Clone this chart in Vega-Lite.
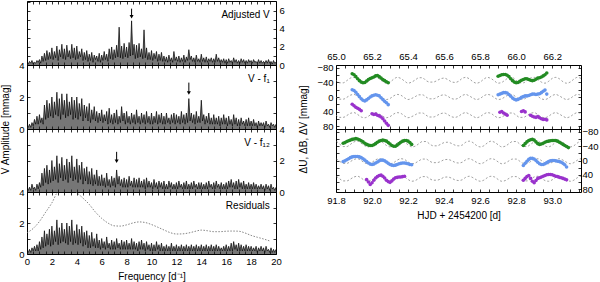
{
"$schema":"https://vega.github.io/schema/vega-lite/v6.json",
"background":"white",
"padding":{"left":0,"top":0,"right":0,"bottom":0},
"config":{"font":"Liberation Sans","view":{"stroke":null},
"axis":{"grid":false,"tickSize":-3,"labelPadding":6,"tickColor":"#000","domainColor":"#000","labelColor":"#000","titleColor":"#000","labelFont":"Liberation Sans","titleFont":"Liberation Sans","labelFontSize":9.5,"titleFontSize":10,"titleFontWeight":"normal","labelOverlap":false,"labelFlush":false,"tickWidth":0.8,"domainWidth":1}},
"datasets":{
"spec":[
{"f":0.0,"a":0.2,"b":0.2,"c":0.2,"d":0.2},{"f":0.1,"a":0.1,"b":0.1,"c":0.1,"d":0.1},{"f":0.2,"a":0.4,"b":0.3,"c":0.3,"d":0.3},{"f":0.3,"a":0.2,"b":0.1,"c":0.1,"d":0.1},{"f":0.4,"a":0.5,"b":0.4,"c":0.5,"d":0.4},{"f":0.5,"a":0.1,"b":0.2,"c":0.2,"d":0.2},{"f":0.6,"a":0.3,"b":0.6,"c":0.3,"d":0.5},{"f":0.7,"a":0.2,"b":0.3,"c":0.1,"d":0.2},{"f":0.8,"a":0.5,"b":0.8,"c":0.5,"d":0.6},{"f":0.9,"a":0.3,"b":0.3,"c":0.2,"d":0.2},
{"f":1.0,"a":0.6,"b":0.9,"c":0.6,"d":0.8},{"f":1.1,"a":0.2,"b":0.4,"c":0.3,"d":0.3},{"f":1.2,"a":1.0,"b":0.7,"c":1.2,"d":1.1},{"f":1.3,"a":0.4,"b":0.3,"c":0.4,"d":0.4},{"f":1.4,"a":1.3,"b":1.5,"c":1.5,"d":1.5},{"f":1.5,"a":0.5,"b":0.6,"c":0.6,"d":0.5},{"f":1.6,"a":1.6,"b":1.8,"c":1.7,"d":1.3},{"f":1.7,"a":0.6,"b":0.7,"c":0.5,"d":0.6},{"f":1.8,"a":1.4,"b":1.6,"c":1.4,"d":1.6},{"f":1.9,"a":0.7,"b":0.8,"c":0.6,"d":0.5},
{"f":2.0,"a":1.9,"b":2.0,"c":2.0,"d":1.8},{"f":2.1,"a":0.6,"b":0.7,"c":0.7,"d":0.6},{"f":2.2,"a":1.5,"b":1.7,"c":1.6,"d":1.5},{"f":2.3,"a":0.8,"b":0.9,"c":0.8,"d":0.8},{"f":2.4,"a":2.1,"b":2.3,"c":2.3,"d":2.2},{"f":2.5,"a":0.5,"b":0.8,"c":0.6,"d":0.6},{"f":2.6,"a":1.7,"b":1.9,"c":1.8,"d":1.7},{"f":2.7,"a":0.9,"b":0.6,"c":0.9,"d":0.7},{"f":2.8,"a":2.3,"b":2.2,"c":2.2,"d":2.0},{"f":2.9,"a":0.7,"b":0.9,"c":0.7,"d":0.8},
{"f":3.0,"a":1.8,"b":1.8,"c":1.7,"d":1.6},{"f":3.1,"a":0.6,"b":0.7,"c":0.8,"d":0.7},{"f":3.2,"a":2.2,"b":2.2,"c":2.1,"d":2.0},{"f":3.3,"a":0.9,"b":0.8,"c":0.6,"d":0.6},{"f":3.4,"a":1.6,"b":1.7,"c":1.9,"d":1.8},{"f":3.5,"a":0.7,"b":0.9,"c":0.9,"d":0.8},{"f":3.6,"a":2.3,"b":2.0,"c":2.3,"d":2.2},{"f":3.7,"a":0.8,"b":0.6,"c":0.7,"d":0.6},{"f":3.8,"a":1.9,"b":1.8,"c":1.6,"d":1.5},{"f":3.9,"a":0.6,"b":0.7,"c":0.8,"d":0.7},
{"f":4.0,"a":2.1,"b":2.0,"c":2.1,"d":1.9},{"f":4.1,"a":0.7,"b":0.6,"c":0.6,"d":0.6},{"f":4.2,"a":1.5,"b":1.6,"c":1.7,"d":1.6},{"f":4.3,"a":0.9,"b":0.8,"c":0.8,"d":0.7},{"f":4.4,"a":1.8,"b":1.9,"c":1.9,"d":1.8},{"f":4.5,"a":0.5,"b":0.5,"c":0.5,"d":0.5},{"f":4.6,"a":1.4,"b":1.5,"c":1.5,"d":1.4},{"f":4.7,"a":0.6,"b":0.7,"c":0.7,"d":0.6},{"f":4.8,"a":1.6,"b":1.4,"c":1.6,"d":1.5},{"f":4.9,"a":0.4,"b":0.5,"c":0.5,"d":0.4},
{"f":5.0,"a":1.2,"b":1.6,"c":1.3,"d":1.2},{"f":5.1,"a":0.5,"b":0.4,"c":0.5,"d":0.4},{"f":5.2,"a":1.4,"b":1.2,"c":1.5,"d":1.4},{"f":5.3,"a":0.3,"b":0.6,"c":0.4,"d":0.5},{"f":5.4,"a":1.1,"b":1.4,"c":1.1,"d":1.0},{"f":5.5,"a":0.6,"b":0.5,"c":0.5,"d":0.4},{"f":5.6,"a":1.0,"b":1.1,"c":1.4,"d":1.3},{"f":5.7,"a":0.4,"b":0.4,"c":0.4,"d":0.4},{"f":5.8,"a":1.3,"b":1.0,"c":1.0,"d":0.9},{"f":5.9,"a":0.3,"b":0.5,"c":0.4,"d":0.3},
{"f":6.0,"a":1.1,"b":1.2,"c":1.1,"d":1.0},{"f":6.1,"a":0.5,"b":0.4,"c":0.4,"d":0.4},{"f":6.2,"a":1.5,"b":0.9,"c":0.9,"d":0.8},{"f":6.3,"a":0.6,"b":0.5,"c":0.3,"d":0.3},{"f":6.4,"a":1.2,"b":1.1,"c":1.2,"d":1.1},{"f":6.5,"a":0.4,"b":0.3,"c":0.4,"d":0.4},{"f":6.6,"a":1.8,"b":1.3,"c":0.8,"d":0.7},{"f":6.7,"a":0.7,"b":0.4,"c":0.3,"d":0.3},{"f":6.8,"a":2.0,"b":0.9,"c":1.0,"d":0.9},{"f":6.9,"a":0.6,"b":0.3,"c":0.4,"d":0.3},
{"f":7.0,"a":1.7,"b":1.0,"c":0.9,"d":0.8},{"f":7.1,"a":0.8,"b":0.4,"c":0.3,"d":0.3},{"f":7.2,"a":2.2,"b":1.2,"c":1.4,"d":1.0},{"f":7.3,"a":0.9,"b":0.3,"c":0.5,"d":0.4},{"f":7.4,"a":4.2,"b":0.8,"c":1.0,"d":0.7},{"f":7.5,"a":0.8,"b":0.4,"c":0.4,"d":0.3},{"f":7.6,"a":2.1,"b":1.4,"c":0.8,"d":0.9},{"f":7.7,"a":0.7,"b":0.5,"c":0.3,"d":0.3},{"f":7.8,"a":2.4,"b":1.0,"c":0.9,"d":0.8},{"f":7.9,"a":0.9,"b":0.3,"c":0.3,"d":0.3},
{"f":8.0,"a":2.0,"b":1.1,"c":0.8,"d":0.9},{"f":8.1,"a":0.8,"b":0.4,"c":0.3,"d":0.3},{"f":8.2,"a":2.5,"b":0.8,"c":1.0,"d":0.7},{"f":8.3,"a":1.0,"b":0.3,"c":0.4,"d":0.3},{"f":8.4,"a":4.9,"b":1.0,"c":0.7,"d":1.0},{"f":8.5,"a":1.1,"b":0.4,"c":0.3,"d":0.3},{"f":8.6,"a":2.3,"b":0.9,"c":0.9,"d":0.8},{"f":8.7,"a":0.7,"b":0.3,"c":0.3,"d":0.3},{"f":8.8,"a":2.2,"b":1.2,"c":0.8,"d":0.7},{"f":8.9,"a":0.8,"b":0.4,"c":0.3,"d":0.2},
{"f":9.0,"a":2.4,"b":0.8,"c":0.9,"d":0.8},{"f":9.1,"a":0.9,"b":0.3,"c":0.3,"d":0.3},{"f":9.2,"a":1.8,"b":1.0,"c":0.7,"d":0.9},{"f":9.3,"a":0.7,"b":0.4,"c":0.3,"d":0.3},{"f":9.4,"a":3.9,"b":0.9,"c":0.8,"d":0.7},{"f":9.5,"a":0.8,"b":0.3,"c":0.2,"d":0.2},{"f":9.6,"a":1.9,"b":1.1,"c":0.9,"d":0.8},{"f":9.7,"a":0.6,"b":0.4,"c":0.3,"d":0.3},{"f":9.8,"a":1.4,"b":0.8,"c":0.7,"d":0.6},{"f":9.9,"a":0.6,"b":0.3,"c":0.3,"d":0.2},
{"f":10.0,"a":1.6,"b":1.0,"c":0.6,"d":0.7},{"f":10.1,"a":0.5,"b":0.3,"c":0.2,"d":0.2},{"f":10.2,"a":1.3,"b":0.8,"c":0.8,"d":0.6},{"f":10.3,"a":0.7,"b":0.4,"c":0.3,"d":0.2},{"f":10.4,"a":1.5,"b":1.1,"c":0.6,"d":0.8},{"f":10.5,"a":0.4,"b":0.3,"c":0.2,"d":0.3},{"f":10.6,"a":1.2,"b":0.9,"c":0.7,"d":0.6},{"f":10.7,"a":0.5,"b":0.4,"c":0.3,"d":0.2},{"f":10.8,"a":1.4,"b":1.0,"c":0.6,"d":0.7},{"f":10.9,"a":0.4,"b":0.3,"c":0.2,"d":0.2},
{"f":11.0,"a":1.0,"b":0.8,"c":0.7,"d":0.5},{"f":11.1,"a":0.4,"b":0.3,"c":0.2,"d":0.2},{"f":11.2,"a":0.9,"b":1.0,"c":0.5,"d":0.6},{"f":11.3,"a":0.3,"b":0.4,"c":0.2,"d":0.2},{"f":11.4,"a":1.1,"b":0.7,"c":0.7,"d":0.5},{"f":11.5,"a":0.4,"b":0.3,"c":0.3,"d":0.2},{"f":11.6,"a":0.8,"b":0.9,"c":0.6,"d":0.7},{"f":11.7,"a":0.3,"b":0.4,"c":0.2,"d":0.2},{"f":11.8,"a":1.5,"b":1.0,"c":0.5,"d":0.5},{"f":11.9,"a":0.5,"b":0.3,"c":0.2,"d":0.2},
{"f":12.0,"a":0.9,"b":0.9,"c":0.6,"d":0.6},{"f":12.1,"a":0.4,"b":0.4,"c":0.2,"d":0.2},{"f":12.2,"a":1.0,"b":0.8,"c":0.7,"d":0.5},{"f":12.3,"a":0.3,"b":0.3,"c":0.3,"d":0.2},{"f":12.4,"a":0.8,"b":1.1,"c":0.5,"d":0.6},{"f":12.5,"a":0.4,"b":0.4,"c":0.2,"d":0.2},{"f":12.6,"a":1.1,"b":0.9,"c":0.6,"d":0.5},{"f":12.7,"a":0.3,"b":0.3,"c":0.2,"d":0.2},{"f":12.8,"a":0.9,"b":1.0,"c":0.7,"d":0.6},{"f":12.9,"a":0.5,"b":0.4,"c":0.2,"d":0.2},
{"f":13.0,"a":1.7,"b":1.9,"c":0.5,"d":0.5},{"f":13.1,"a":0.6,"b":0.5,"c":0.2,"d":0.2},{"f":13.2,"a":1.0,"b":1.0,"c":0.6,"d":0.6},{"f":13.3,"a":0.4,"b":0.4,"c":0.2,"d":0.2},{"f":13.4,"a":0.8,"b":0.9,"c":0.7,"d":0.5},{"f":13.5,"a":0.3,"b":0.3,"c":0.3,"d":0.2},{"f":13.6,"a":1.1,"b":1.1,"c":0.5,"d":0.6},{"f":13.7,"a":0.4,"b":0.4,"c":0.2,"d":0.2},{"f":13.8,"a":0.7,"b":0.8,"c":0.6,"d":0.5},{"f":13.9,"a":0.3,"b":0.4,"c":0.2,"d":0.2},
{"f":14.0,"a":1.2,"b":1.8,"c":0.6,"d":0.6},{"f":14.1,"a":0.4,"b":0.5,"c":0.2,"d":0.2},{"f":14.2,"a":0.8,"b":0.9,"c":0.5,"d":0.5},{"f":14.3,"a":0.3,"b":0.3,"c":0.2,"d":0.2},{"f":14.4,"a":0.9,"b":0.8,"c":0.6,"d":0.6},{"f":14.5,"a":0.3,"b":0.4,"c":0.2,"d":0.2},{"f":14.6,"a":0.7,"b":1.0,"c":0.7,"d":0.5},{"f":14.7,"a":0.4,"b":0.3,"c":0.3,"d":0.2},{"f":14.8,"a":0.8,"b":0.7,"c":0.5,"d":0.6},{"f":14.9,"a":0.3,"b":0.3,"c":0.2,"d":0.2},
{"f":15.0,"a":0.7,"b":0.9,"c":0.6,"d":0.5},{"f":15.1,"a":0.3,"b":0.3,"c":0.2,"d":0.2},{"f":15.2,"a":1.2,"b":0.7,"c":0.7,"d":0.6},{"f":15.3,"a":0.4,"b":0.3,"c":0.3,"d":0.2},{"f":15.4,"a":0.8,"b":0.8,"c":0.5,"d":0.5},{"f":15.5,"a":0.3,"b":0.2,"c":0.2,"d":0.2},{"f":15.6,"a":0.6,"b":0.7,"c":0.6,"d":0.4},{"f":15.7,"a":0.3,"b":0.3,"c":0.2,"d":0.2},{"f":15.8,"a":0.7,"b":0.9,"c":0.5,"d":0.5},{"f":15.9,"a":0.2,"b":0.3,"c":0.2,"d":0.2},
{"f":16.0,"a":0.6,"b":0.7,"c":0.6,"d":0.6},{"f":16.1,"a":0.2,"b":0.2,"c":0.2,"d":0.2},{"f":16.2,"a":0.7,"b":0.8,"c":0.7,"d":0.5},{"f":16.3,"a":0.3,"b":0.3,"c":0.3,"d":0.2},{"f":16.4,"a":0.5,"b":0.6,"c":0.8,"d":0.7},{"f":16.5,"a":0.2,"b":0.2,"c":0.3,"d":0.2},{"f":16.6,"a":0.8,"b":0.9,"c":0.6,"d":0.8},{"f":16.7,"a":0.3,"b":0.3,"c":0.2,"d":0.3},{"f":16.8,"a":0.6,"b":0.7,"c":0.7,"d":0.6},{"f":16.9,"a":0.2,"b":0.2,"c":0.2,"d":0.2},
{"f":17.0,"a":0.5,"b":0.6,"c":0.8,"d":0.7},{"f":17.1,"a":0.2,"b":0.2,"c":0.3,"d":0.2},{"f":17.2,"a":0.7,"b":0.7,"c":0.6,"d":0.6},{"f":17.3,"a":0.3,"b":0.3,"c":0.2,"d":0.2},{"f":17.4,"a":0.6,"b":0.5,"c":0.7,"d":0.5},{"f":17.5,"a":0.2,"b":0.2,"c":0.2,"d":0.2},{"f":17.6,"a":0.5,"b":0.6,"c":0.5,"d":0.6},{"f":17.7,"a":0.2,"b":0.2,"c":0.2,"d":0.2},{"f":17.8,"a":0.6,"b":0.7,"c":0.6,"d":0.5},{"f":17.9,"a":0.3,"b":0.2,"c":0.2,"d":0.2},
{"f":18.0,"a":0.5,"b":0.5,"c":0.5,"d":0.5},{"f":18.1,"a":0.2,"b":0.2,"c":0.2,"d":0.2},{"f":18.2,"a":0.6,"b":0.6,"c":0.6,"d":0.4},{"f":18.3,"a":0.3,"b":0.2,"c":0.2,"d":0.2},{"f":18.4,"a":0.4,"b":0.4,"c":0.5,"d":0.5},{"f":18.5,"a":0.2,"b":0.1,"c":0.2,"d":0.1},{"f":18.6,"a":0.6,"b":0.5,"c":0.4,"d":0.4},{"f":18.7,"a":0.2,"b":0.2,"c":0.2,"d":0.2},{"f":18.8,"a":0.5,"b":0.4,"c":0.5,"d":0.5},{"f":18.9,"a":0.2,"b":0.2,"c":0.2,"d":0.2},
{"f":19.0,"a":0.4,"b":0.4,"c":0.4,"d":0.4},{"f":19.1,"a":0.2,"b":0.1,"c":0.1,"d":0.1},{"f":19.2,"a":0.5,"b":0.5,"c":0.5,"d":0.5},{"f":19.3,"a":0.2,"b":0.2,"c":0.2,"d":0.2},{"f":19.4,"a":0.6,"b":0.3,"c":0.4,"d":0.3},{"f":19.5,"a":0.2,"b":0.1,"c":0.1,"d":0.1},{"f":19.6,"a":0.4,"b":0.4,"c":0.5,"d":0.4},{"f":19.7,"a":0.1,"b":0.2,"c":0.2,"d":0.1},{"f":19.8,"a":0.5,"b":0.3,"c":0.3,"d":0.3},{"f":19.9,"a":0.2,"b":0.1,"c":0.1,"d":0.1},
{"f":20.0,"a":0.3,"b":0.3,"c":0.3,"d":0.3}
],
"sig":[
{"f":0,"s":1.37},{"f":0.5,"s":1.65},{"f":1,"s":2.1},{"f":1.5,"s":2.7},{"f":2,"s":3.3},{"f":2.5,"s":4.05},{"f":3,"s":4.25},{"f":3.5,"s":4.2},{"f":4,"s":3.95},{"f":4.5,"s":3.6},{"f":5,"s":3.2},{"f":5.5,"s":2.7},{"f":6,"s":2.3},{"f":6.5,"s":2.0},{"f":7,"s":1.82},{"f":7.5,"s":1.8},{"f":8,"s":1.88},{"f":8.5,"s":2.0},{"f":9,"s":2.07},{"f":9.5,"s":2.03},{"f":10,"s":1.9},{"f":10.5,"s":1.73},{"f":11,"s":1.55},{"f":11.5,"s":1.38},{"f":12,"s":1.29},{"f":12.5,"s":1.3},{"f":13,"s":1.36},{"f":13.5,"s":1.46},{"f":14,"s":1.54},{"f":14.5,"s":1.5},{"f":15,"s":1.44},{"f":15.5,"s":1.44},{"f":16,"s":1.47},{"f":16.5,"s":1.48},{"f":17,"s":1.47},{"f":17.5,"s":1.36},{"f":18,"s":1.2},{"f":18.5,"s":1.08},{"f":19,"s":0.97},{"f":19.5,"s":0.84}
],
"arrows":[
{"p":"A","f":8.4,"top":6.25,"tip":5.35},
{"p":"B","f":13.0,"top":2.9,"tip":2.25},
{"p":"C","f":7.2,"top":2.55,"tip":1.95}
],
"obs":[
{"s":"T","t":65.09,"g":-64,"b":-20,"v":20},{"s":"T","t":65.10,"g":-61,"b":-18,"v":24},{"s":"T","t":65.11,"g":-56,"b":-13,"v":28},{"s":"T","t":65.12,"g":-50,"b":-7,"v":31},{"s":"T","t":65.13,"g":-45,"b":-1,"v":34},{"s":"T","t":65.14,"g":-41,"b":5,"v":38},{"s":"T","t":65.15,"g":-39,"b":9,"v":null},{"s":"T","t":65.16,"g":-40,"b":11,"v":null},{"s":"T","t":65.17,"g":-44,"b":8,"v":null},{"s":"T","t":65.18,"g":-48,"b":4,"v":null},{"s":"T","t":65.19,"g":-51,"b":0,"v":null},{"s":"T","t":65.20,"g":-53,"b":-3,"v":46},{"s":"T","t":65.21,"g":-55,"b":-5,"v":48},{"s":"T","t":65.22,"g":-58,"b":-6,"v":47},{"s":"T","t":65.23,"g":-59,"b":-5,"v":50},{"s":"T","t":65.24,"g":-56,"b":-3,"v":52},{"s":"T","t":65.25,"g":-52,"b":2,"v":55},{"s":"T","t":65.26,"g":-48,"b":7,"v":60},{"s":"T","t":65.27,"g":-45,"b":12,"v":66},{"s":"T","t":65.28,"g":-42,"b":16,"v":72},{"s":"T","t":65.29,"g":-39,"b":21,"v":78},
{"s":"T","t":65.90,"g":-57,"b":-6,"v":null},{"s":"T","t":65.91,"g":-59,"b":-8,"v":42},{"s":"T","t":65.92,"g":-61,"b":-10,"v":40},{"s":"T","t":65.93,"g":-62,"b":-12,"v":44},{"s":"T","t":65.94,"g":-62,"b":-12,"v":47},{"s":"T","t":65.95,"g":-60,"b":-11,"v":50},{"s":"T","t":65.96,"g":-56,"b":-7,"v":null},{"s":"T","t":65.97,"g":-50,"b":-2,"v":null},{"s":"T","t":65.98,"g":-45,"b":3,"v":null},{"s":"T","t":65.99,"g":-41,"b":6,"v":null},{"s":"T","t":66.00,"g":-39,"b":8,"v":null},{"s":"T","t":66.01,"g":-40,"b":7,"v":null},{"s":"T","t":66.02,"g":-43,"b":4,"v":null},{"s":"T","t":66.03,"g":-46,"b":1,"v":40},{"s":"T","t":66.04,"g":-48,"b":-1,"v":38},{"s":"T","t":66.05,"g":-50,"b":-3,"v":41},{"s":"T","t":66.06,"g":-50,"b":-3,"v":null},{"s":"T","t":66.07,"g":-48,"b":-4,"v":null},{"s":"T","t":66.08,"g":-46,"b":-6,"v":50},{"s":"T","t":66.09,"g":-45,"b":-8,"v":53},{"s":"T","t":66.10,"g":-46,"b":-8,"v":55},{"s":"T","t":66.11,"g":-49,"b":-7,"v":56},{"s":"T","t":66.12,"g":-52,"b":-8,"v":54},{"s":"T","t":66.13,"g":-53,"b":-9,"v":57},{"s":"T","t":66.14,"g":-55,"b":-12,"v":60},{"s":"T","t":66.15,"g":-58,"b":-16,"v":62},{"s":"T","t":66.16,"g":-61,"b":-19,"v":61},{"s":"T","t":66.17,"g":-66,"b":-8,"v":63},
{"s":"B","t":91.84,"g":-48,"b":3,"v":null},{"s":"B","t":91.85,"g":-50,"b":1,"v":null},{"s":"B","t":91.86,"g":-53,"b":-2,"v":null},{"s":"B","t":91.87,"g":-55,"b":-5,"v":null},{"s":"B","t":91.88,"g":-57,"b":-8,"v":null},{"s":"B","t":91.89,"g":-59,"b":-10,"v":null},{"s":"B","t":91.90,"g":-60,"b":-11,"v":null},{"s":"B","t":91.91,"g":-61,"b":-11,"v":null},{"s":"B","t":91.92,"g":-60,"b":-11,"v":null},{"s":"B","t":91.93,"g":-58,"b":-10,"v":null},{"s":"B","t":91.94,"g":-55,"b":-8,"v":null},{"s":"B","t":91.95,"g":-52,"b":-5,"v":null},{"s":"B","t":91.96,"g":-48,"b":-1,"v":null},{"s":"B","t":91.97,"g":-45,"b":3,"v":53},{"s":"B","t":91.98,"g":-43,"b":7,"v":60},{"s":"B","t":91.99,"g":-42,"b":10,"v":67},{"s":"B","t":92.00,"g":-42,"b":11,"v":62},{"s":"B","t":92.01,"g":-44,"b":10,"v":55},{"s":"B","t":92.02,"g":-47,"b":7,"v":49},{"s":"B","t":92.03,"g":-51,"b":4,"v":45},{"s":"B","t":92.04,"g":-54,"b":1,"v":42},{"s":"B","t":92.05,"g":-56,"b":-1,"v":41},{"s":"B","t":92.06,"g":-57,"b":-1,"v":44},{"s":"B","t":92.07,"g":-56,"b":1,"v":49},{"s":"B","t":92.08,"g":-54,"b":4,"v":55},{"s":"B","t":92.09,"g":-50,"b":8,"v":59},{"s":"B","t":92.10,"g":-46,"b":11,"v":61},{"s":"B","t":92.11,"g":-42,"b":13,"v":57},{"s":"B","t":92.12,"g":-40,"b":14,"v":52},{"s":"B","t":92.13,"g":-40,"b":13,"v":48},{"s":"B","t":92.14,"g":-43,"b":11,"v":47},{"s":"B","t":92.15,"g":-47,"b":9,"v":46},{"s":"B","t":92.16,"g":-51,"b":8,"v":46},{"s":"B","t":92.17,"g":-54,"b":7,"v":45},{"s":"B","t":92.18,"g":-56,"b":7,"v":44},{"s":"B","t":92.19,"g":-56,"b":8,"v":null},{"s":"B","t":92.20,"g":-54,"b":9,"v":null},{"s":"B","t":92.21,"g":-50,"b":11,"v":null},{"s":"B","t":92.22,"g":-45,"b":12,"v":null},
{"s":"B","t":92.84,"g":-42,"b":14,"v":55},{"s":"B","t":92.85,"g":-47,"b":8,"v":50},{"s":"B","t":92.86,"g":-52,"b":2,"v":45},{"s":"B","t":92.87,"g":-56,"b":-3,"v":42},{"s":"B","t":92.88,"g":-58,"b":-6,"v":50},{"s":"B","t":92.89,"g":-59,"b":-6,"v":58},{"s":"B","t":92.90,"g":-57,"b":-4,"v":62},{"s":"B","t":92.91,"g":-52,"b":0,"v":56},{"s":"B","t":92.92,"g":-47,"b":5,"v":50},{"s":"B","t":92.93,"g":-45,"b":9,"v":48},{"s":"B","t":92.94,"g":-46,"b":11,"v":46},{"s":"B","t":92.95,"g":-48,"b":11,"v":44},{"s":"B","t":92.96,"g":-51,"b":9,"v":42},{"s":"B","t":92.97,"g":-53,"b":6,"v":40},{"s":"B","t":92.98,"g":-54,"b":3,"v":39},{"s":"B","t":92.99,"g":-55,"b":1,"v":39},{"s":"B","t":93.00,"g":-56,"b":0,"v":40},{"s":"B","t":93.01,"g":-56,"b":0,"v":42},{"s":"B","t":93.02,"g":-56,"b":1,"v":44},{"s":"B","t":93.03,"g":-54,"b":2,"v":45},{"s":"B","t":93.04,"g":-51,"b":3,"v":47},{"s":"B","t":93.05,"g":-48,"b":5,"v":48},{"s":"B","t":93.06,"g":-45,"b":8,"v":50},{"s":"B","t":93.07,"g":-42,"b":12,"v":52},{"s":"B","t":93.08,"g":-39,"b":18,"v":54},{"s":"B","t":93.09,"g":-36,"b":null,"v":null}
],
"model":[
{"s":"T","t":64.98,"g":-53,"b":-6,"v":44},{"s":"T","t":65.00,"g":-46,"b":0,"v":50},{"s":"T","t":65.02,"g":-39,"b":6,"v":56},{"s":"T","t":65.04,"g":-39,"b":6,"v":56},{"s":"T","t":65.06,"g":-45,"b":1,"v":51},{"s":"T","t":65.08,"g":-52,"b":-5,"v":45},{"s":"T","t":65.10,"g":-54,"b":-7,"v":43},{"s":"T","t":65.12,"g":-48,"b":-2,"v":48},{"s":"T","t":65.14,"g":-41,"b":5,"v":55},{"s":"T","t":65.16,"g":-38,"b":7,"v":57},{"s":"T","t":65.18,"g":-43,"b":3,"v":53},{"s":"T","t":65.20,"g":-51,"b":-4,"v":46},{"s":"T","t":65.22,"g":-54,"b":-7,"v":43},{"s":"T","t":65.24,"g":-50,"b":-3,"v":47},{"s":"T","t":65.26,"g":-42,"b":3,"v":53},{"s":"T","t":65.28,"g":-38,"b":7,"v":57},{"s":"T","t":65.30,"g":-41,"b":4,"v":54},{"s":"T","t":65.32,"g":-49,"b":-3,"v":47},{"s":"T","t":65.34,"g":-54,"b":-7,"v":43},{"s":"T","t":65.36,"g":-51,"b":-5,"v":45},{"s":"T","t":65.38,"g":-44,"b":2,"v":52},{"s":"T","t":65.40,"g":-38,"b":7,"v":57},{"s":"T","t":65.42,"g":-41,"b":4,"v":54},{"s":"T","t":65.44,"g":-47,"b":-1,"v":49},{"s":"T","t":65.46,"g":-53,"b":-6,"v":44},{"s":"T","t":65.48,"g":-53,"b":-6,"v":44},{"s":"T","t":65.50,"g":-45,"b":0,"v":50},{"s":"T","t":65.52,"g":-41,"b":5,"v":55},{"s":"T","t":65.54,"g":-41,"b":5,"v":55},{"s":"T","t":65.56,"g":-45,"b":1,"v":51},{"s":"T","t":65.58,"g":-50,"b":-4,"v":46},{"s":"T","t":65.60,"g":-52,"b":-6,"v":44},{"s":"T","t":65.62,"g":-48,"b":-2,"v":48},{"s":"T","t":65.64,"g":-42,"b":4,"v":54},{"s":"T","t":65.66,"g":-40,"b":6,"v":56},{"s":"T","t":65.68,"g":-43,"b":3,"v":53},{"s":"T","t":65.70,"g":-51,"b":-4,"v":46},{"s":"T","t":65.72,"g":-54,"b":-7,"v":43},{"s":"T","t":65.74,"g":-50,"b":-3,"v":47},{"s":"T","t":65.76,"g":-42,"b":3,"v":53},{"s":"T","t":65.78,"g":-38,"b":7,"v":57},{"s":"T","t":65.80,"g":-41,"b":4,"v":54},{"s":"T","t":65.82,"g":-49,"b":-3,"v":47},{"s":"T","t":65.84,"g":-54,"b":-7,"v":43},{"s":"T","t":65.86,"g":-51,"b":-5,"v":45},{"s":"T","t":65.88,"g":-44,"b":2,"v":52},{"s":"T","t":65.90,"g":-38,"b":7,"v":57},{"s":"T","t":65.92,"g":-40,"b":5,"v":55},{"s":"T","t":65.94,"g":-47,"b":-1,"v":49},{"s":"T","t":65.96,"g":-53,"b":-6,"v":44},{"s":"T","t":65.98,"g":-53,"b":-6,"v":44},{"s":"T","t":66.00,"g":-46,"b":0,"v":50},{"s":"T","t":66.02,"g":-39,"b":6,"v":56},{"s":"T","t":66.04,"g":-39,"b":6,"v":56},{"s":"T","t":66.06,"g":-45,"b":1,"v":51},{"s":"T","t":66.08,"g":-52,"b":-5,"v":45},{"s":"T","t":66.10,"g":-54,"b":-7,"v":43},{"s":"T","t":66.12,"g":-48,"b":-2,"v":48},{"s":"T","t":66.14,"g":-41,"b":5,"v":55},{"s":"T","t":66.16,"g":-38,"b":7,"v":57},{"s":"T","t":66.18,"g":-43,"b":3,"v":53},{"s":"T","t":66.20,"g":-51,"b":-4,"v":46},{"s":"T","t":66.22,"g":-54,"b":-7,"v":43},{"s":"T","t":66.24,"g":-50,"b":-3,"v":47},{"s":"T","t":66.26,"g":-42,"b":3,"v":53},{"s":"T","t":66.28,"g":-38,"b":7,"v":57},{"s":"T","t":66.30,"g":-41,"b":4,"v":54},{"s":"T","t":66.32,"g":-49,"b":-3,"v":47},{"s":"T","t":66.34,"g":-54,"b":-7,"v":43},{"s":"T","t":66.36,"g":-51,"b":-5,"v":45},{"s":"T","t":66.38,"g":-44,"b":2,"v":52},
{"s":"B","t":91.78,"g":-53,"b":-4,"v":45},{"s":"B","t":91.80,"g":-53,"b":-4,"v":45},{"s":"B","t":91.82,"g":-46,"b":2,"v":51},{"s":"B","t":91.84,"g":-39,"b":8,"v":57},{"s":"B","t":91.86,"g":-39,"b":8,"v":57},{"s":"B","t":91.88,"g":-45,"b":3,"v":52},{"s":"B","t":91.90,"g":-52,"b":-3,"v":46},{"s":"B","t":91.92,"g":-54,"b":-5,"v":44},{"s":"B","t":91.94,"g":-48,"b":0,"v":49},{"s":"B","t":91.96,"g":-41,"b":7,"v":56},{"s":"B","t":91.98,"g":-38,"b":9,"v":58},{"s":"B","t":92.00,"g":-43,"b":5,"v":54},{"s":"B","t":92.02,"g":-51,"b":-2,"v":47},{"s":"B","t":92.04,"g":-54,"b":-5,"v":44},{"s":"B","t":92.06,"g":-50,"b":-1,"v":48},{"s":"B","t":92.08,"g":-42,"b":5,"v":54},{"s":"B","t":92.10,"g":-38,"b":9,"v":58},{"s":"B","t":92.12,"g":-41,"b":6,"v":55},{"s":"B","t":92.14,"g":-49,"b":-1,"v":48},{"s":"B","t":92.16,"g":-54,"b":-5,"v":44},{"s":"B","t":92.18,"g":-51,"b":-3,"v":46},{"s":"B","t":92.20,"g":-44,"b":4,"v":53},{"s":"B","t":92.22,"g":-38,"b":9,"v":58},{"s":"B","t":92.24,"g":-40,"b":7,"v":56},{"s":"B","t":92.26,"g":-47,"b":1,"v":50},{"s":"B","t":92.28,"g":-53,"b":-4,"v":45},{"s":"B","t":92.30,"g":-53,"b":-4,"v":45},{"s":"B","t":92.32,"g":-46,"b":2,"v":51},{"s":"B","t":92.34,"g":-41,"b":6,"v":55},{"s":"B","t":92.36,"g":-41,"b":6,"v":55},{"s":"B","t":92.38,"g":-45,"b":3,"v":52},{"s":"B","t":92.40,"g":-50,"b":-2,"v":47},{"s":"B","t":92.42,"g":-51,"b":-3,"v":46},{"s":"B","t":92.44,"g":-48,"b":0,"v":49},{"s":"B","t":92.46,"g":-43,"b":5,"v":54},{"s":"B","t":92.48,"g":-41,"b":7,"v":56},{"s":"B","t":92.50,"g":-43,"b":5,"v":54},{"s":"B","t":92.52,"g":-51,"b":-2,"v":47},{"s":"B","t":92.54,"g":-54,"b":-5,"v":44},{"s":"B","t":92.56,"g":-50,"b":-1,"v":48},{"s":"B","t":92.58,"g":-42,"b":5,"v":54},{"s":"B","t":92.60,"g":-38,"b":9,"v":58},{"s":"B","t":92.62,"g":-41,"b":6,"v":55},{"s":"B","t":92.64,"g":-49,"b":-1,"v":48},{"s":"B","t":92.66,"g":-54,"b":-5,"v":44},{"s":"B","t":92.68,"g":-51,"b":-3,"v":46},{"s":"B","t":92.70,"g":-44,"b":4,"v":53},{"s":"B","t":92.72,"g":-38,"b":9,"v":58},{"s":"B","t":92.74,"g":-40,"b":7,"v":56},{"s":"B","t":92.76,"g":-47,"b":1,"v":50},{"s":"B","t":92.78,"g":-53,"b":-4,"v":45},{"s":"B","t":92.80,"g":-53,"b":-4,"v":45},{"s":"B","t":92.82,"g":-46,"b":2,"v":51},{"s":"B","t":92.84,"g":-39,"b":8,"v":57},{"s":"B","t":92.86,"g":-39,"b":8,"v":57},{"s":"B","t":92.88,"g":-45,"b":3,"v":52},{"s":"B","t":92.90,"g":-52,"b":-3,"v":46},{"s":"B","t":92.92,"g":-54,"b":-5,"v":44},{"s":"B","t":92.94,"g":-48,"b":0,"v":49},{"s":"B","t":92.96,"g":-41,"b":7,"v":56},{"s":"B","t":92.98,"g":-38,"b":9,"v":58},{"s":"B","t":93.00,"g":-43,"b":5,"v":54},{"s":"B","t":93.02,"g":-51,"b":-2,"v":47},{"s":"B","t":93.04,"g":-54,"b":-5,"v":44},{"s":"B","t":93.06,"g":-50,"b":-1,"v":48},{"s":"B","t":93.08,"g":-42,"b":5,"v":54},{"s":"B","t":93.10,"g":-38,"b":9,"v":58},{"s":"B","t":93.12,"g":-41,"b":6,"v":55},{"s":"B","t":93.14,"g":-49,"b":-1,"v":48},{"s":"B","t":93.16,"g":-54,"b":-5,"v":44},{"s":"B","t":93.18,"g":-51,"b":-3,"v":46}
]
},
"columns":2,
"spacing":{"row":0,"column":60},
"bounds":"flush",
"concat":[
{"width":249,"height":64,
"layer":[
{"data":{"name":"spec"},"mark":{"type":"area","color":"#1a1a1a","opacity":0.6,"clip":true},
"encoding":{"x":{"field":"f","type":"quantitative","scale":{"domain":[0,20],"nice":false,"zero":false},"axis":{"orient":"bottom","values":[0,0.5,1,1.5,2,2.5,3,3.5,4,4.5,5,5.5,6,6.5,7,7.5,8,8.5,9,9.5,10,10.5,11,11.5,12,12.5,13,13.5,14,14.5,15,15.5,16,16.5,17,17.5,18,18.5,19,19.5,20],"labels":false,"title":null}},
"y":{"field":"a","type":"quantitative","scale":{"domain":[0,7.1],"nice":false},"axis":{"orient":"left","values":[0,1,2,3,4,5,6,7],"labels":false,"title":null}}}},
{"data":{"name":"spec"},"mark":{"type":"line","color":"#000","strokeWidth":0.7,"clip":true},
"encoding":{"x":{"field":"f","type":"quantitative","scale":{"domain":[0,20],"nice":false,"zero":false},"axis":null},
"y":{"field":"a","type":"quantitative","scale":{"domain":[0,7.1],"nice":false},"axis":null}}},
{"data":{"name":"arrows"},"transform":[{"filter":"datum.p==='A'"}],"mark":{"type":"rule","color":"#000","strokeWidth":1},
"encoding":{"x":{"field":"f","type":"quantitative","scale":{"domain":[0,20],"nice":false,"zero":false},"axis":{"orient":"top","values":[0,0.5,1,1.5,2,2.5,3,3.5,4,4.5,5,5.5,6,6.5,7,7.5,8,8.5,9,9.5,10,10.5,11,11.5,12,12.5,13,13.5,14,14.5,15,15.5,16,16.5,17,17.5,18,18.5,19,19.5,20],"labels":false,"title":null}},
"y":{"field":"top","type":"quantitative","scale":{"domain":[0,7.1],"nice":false},"axis":{"orient":"right","values":[0,1,2,3,4,5,6],"labelExpr":"datum.value % 2 === 0 ? format(datum.value,'d') : ''","title":null}},
"y2":{"field":"tip"}}},
{"data":{"name":"arrows"},"transform":[{"filter":"datum.p==='A'"}],"mark":{"type":"point","shape":"triangle-down","filled":true,"color":"#000","size":16,"opacity":1},
"encoding":{"x":{"field":"f","type":"quantitative","scale":{"domain":[0,20],"nice":false,"zero":false},"axis":null},"y":{"field":"tip","type":"quantitative","scale":{"domain":[0,7.1],"nice":false},"axis":null}}},
{"data":{"values":[{"label":"Adjusted V"}]},"mark":{"type":"text","align":"right","baseline":"middle","fontSize":10,"color":"#000"},
"encoding":{"x":{"datum":19.5,"type":"quantitative","scale":{"domain":[0,20],"nice":false,"zero":false},"axis":null},"y":{"datum":5.55,"type":"quantitative","scale":{"domain":[0,7.1],"nice":false},"axis":null},"text":{"field":"label"}}}
],
"resolve":{"axis":{"x":"independent","y":"independent"}}},
{"width":245,"height":64,"data":{"values":[]},"mark":"point"},
{"width":249,"height":64,
"layer":[
{"data":{"name":"spec"},"mark":{"type":"area","color":"#1a1a1a","opacity":0.6,"clip":true},
"encoding":{"x":{"field":"f","type":"quantitative","scale":{"domain":[0,20],"nice":false,"zero":false},"axis":{"orient":"bottom","values":[0,0.5,1,1.5,2,2.5,3,3.5,4,4.5,5,5.5,6,6.5,7,7.5,8,8.5,9,9.5,10,10.5,11,11.5,12,12.5,13,13.5,14,14.5,15,15.5,16,16.5,17,17.5,18,18.5,19,19.5,20],"labels":false,"title":null}},
"y":{"field":"b","type":"quantitative","scale":{"domain":[0,4],"nice":false},"axis":{"orient":"left","values":[0,1,2,3,4],"labelExpr":"datum.value % 2 === 0 ? format(datum.value,'d') : ''","title":"V Amplitude [mmag]","titleY":64,"titlePadding":8}}}},
{"data":{"name":"spec"},"mark":{"type":"line","color":"#000","strokeWidth":0.7,"clip":true},
"encoding":{"x":{"field":"f","type":"quantitative","scale":{"domain":[0,20],"nice":false,"zero":false},"axis":null},
"y":{"field":"b","type":"quantitative","scale":{"domain":[0,4],"nice":false},"axis":null}}},
{"data":{"name":"arrows"},"transform":[{"filter":"datum.p==='B'"}],"mark":{"type":"rule","color":"#000","strokeWidth":1},
"encoding":{"x":{"field":"f","type":"quantitative","scale":{"domain":[0,20],"nice":false,"zero":false},"axis":{"orient":"top","values":[0,0.5,1,1.5,2,2.5,3,3.5,4,4.5,5,5.5,6,6.5,7,7.5,8,8.5,9,9.5,10,10.5,11,11.5,12,12.5,13,13.5,14,14.5,15,15.5,16,16.5,17,17.5,18,18.5,19,19.5,20],"labels":false,"title":null}},
"y":{"field":"top","type":"quantitative","scale":{"domain":[0,4],"nice":false},"axis":{"orient":"right","values":[0,1,2,3,4],"labels":false,"title":null}},
"y2":{"field":"tip"}}},
{"data":{"name":"arrows"},"transform":[{"filter":"datum.p==='B'"}],"mark":{"type":"point","shape":"triangle-down","filled":true,"color":"#000","size":16,"opacity":1},
"encoding":{"x":{"field":"f","type":"quantitative","scale":{"domain":[0,20],"nice":false,"zero":false},"axis":null},"y":{"field":"tip","type":"quantitative","scale":{"domain":[0,4],"nice":false},"axis":null}}},
{"data":{"values":[{"label":"V - f₁"}]},"mark":{"type":"text","align":"right","baseline":"middle","fontSize":10,"color":"#000"},
"encoding":{"x":{"datum":19.5,"type":"quantitative","scale":{"domain":[0,20],"nice":false,"zero":false},"axis":null},"y":{"datum":3.1,"type":"quantitative","scale":{"domain":[0,4],"nice":false},"axis":null},"text":{"field":"label"}}}
],
"resolve":{"axis":{"x":"independent","y":"independent"}}},
{"width":245,"height":64,
"layer":[
{"data":{"name":"model"},"transform":[{"filter":"datum.s==='T'"},{"fold":["g","b","v"],"as":["band","val"]}],
"mark":{"type":"line","color":"#777","strokeWidth":0.7,"strokeDash":[2,2],"interpolate":"monotone","clip":true},
"encoding":{"x":{"field":"t","type":"quantitative","scale":{"domain":[65.0,66.36],"nice":false,"zero":false},"axis":{"orient":"top","values":[65,65.05,65.1,65.15,65.2,65.25,65.3,65.35,65.4,65.45,65.5,65.55,65.6,65.65,65.7,65.75,65.8,65.85,65.9,65.95,66,66.05,66.1,66.15,66.2,66.25,66.3,66.35],"labelExpr":"abs(datum.value*5 - round(datum.value*5)) < 0.01 ? format(datum.value, '.1f') : ''","title":null,"labelPadding":7}},
"y":{"field":"val","type":"quantitative","scale":{"domain":[-88,88],"reverse":true,"nice":false,"zero":false},"axis":{"orient":"left","values":[-80,-60,-40,-20,0,20,40,60,80],"labelExpr":"datum.value % 40 === 0 ? datum.label : ''","title":"ΔU, ΔB, ΔV [mmag]","titleY":64,"titlePadding":8}},
"detail":{"field":"band","type":"nominal"}}},
{"data":{"name":"obs"},"transform":[{"filter":"datum.s==='T'"},{"fold":["g","b","v"],"as":["band","val"]},{"filter":"datum.val != null"}],
"mark":{"type":"point","filled":true,"size":13,"opacity":1,"clip":true},
"encoding":{"x":{"field":"t","type":"quantitative","scale":{"domain":[65.0,66.36],"nice":false,"zero":false},"axis":{"orient":"bottom","values":[65,65.05,65.1,65.15,65.2,65.25,65.3,65.35,65.4,65.45,65.5,65.55,65.6,65.65,65.7,65.75,65.8,65.85,65.9,65.95,66,66.05,66.1,66.15,66.2,66.25,66.3,66.35],"labels":false,"title":null}},
"y":{"field":"val","type":"quantitative","scale":{"domain":[-88,88],"reverse":true,"nice":false,"zero":false},"axis":{"orient":"right","values":[-80,-60,-40,-20,0,20,40,60,80],"labels":false,"title":null}},
"color":{"field":"band","type":"nominal","scale":{"domain":["g","b","v"],"range":["#228b22","#6495ed","#9932cc"]},"legend":null}}}
],
"resolve":{"axis":{"x":"independent","y":"independent"}}},
{"width":249,"height":63,
"layer":[
{"data":{"name":"spec"},"mark":{"type":"area","color":"#1a1a1a","opacity":0.6,"clip":true},
"encoding":{"x":{"field":"f","type":"quantitative","scale":{"domain":[0,20],"nice":false,"zero":false},"axis":{"orient":"bottom","values":[0,0.5,1,1.5,2,2.5,3,3.5,4,4.5,5,5.5,6,6.5,7,7.5,8,8.5,9,9.5,10,10.5,11,11.5,12,12.5,13,13.5,14,14.5,15,15.5,16,16.5,17,17.5,18,18.5,19,19.5,20],"labels":false,"title":null}},
"y":{"field":"c","type":"quantitative","scale":{"domain":[0,4],"nice":false},"axis":{"orient":"left","values":[0,1,2,3,4],"labels":false,"title":null}}}},
{"data":{"name":"spec"},"mark":{"type":"line","color":"#000","strokeWidth":0.7,"clip":true},
"encoding":{"x":{"field":"f","type":"quantitative","scale":{"domain":[0,20],"nice":false,"zero":false},"axis":null},
"y":{"field":"c","type":"quantitative","scale":{"domain":[0,4],"nice":false},"axis":null}}},
{"data":{"name":"arrows"},"transform":[{"filter":"datum.p==='C'"}],"mark":{"type":"rule","color":"#000","strokeWidth":1},
"encoding":{"x":{"field":"f","type":"quantitative","scale":{"domain":[0,20],"nice":false,"zero":false},"axis":{"orient":"top","values":[0,0.5,1,1.5,2,2.5,3,3.5,4,4.5,5,5.5,6,6.5,7,7.5,8,8.5,9,9.5,10,10.5,11,11.5,12,12.5,13,13.5,14,14.5,15,15.5,16,16.5,17,17.5,18,18.5,19,19.5,20],"labels":false,"title":null}},
"y":{"field":"top","type":"quantitative","scale":{"domain":[0,4],"nice":false},"axis":{"orient":"right","values":[0,1,2,3,4],"labelExpr":"datum.value % 2 === 0 ? format(datum.value,'d') : ''","title":null}},
"y2":{"field":"tip"}}},
{"data":{"name":"arrows"},"transform":[{"filter":"datum.p==='C'"}],"mark":{"type":"point","shape":"triangle-down","filled":true,"color":"#000","size":16,"opacity":1},
"encoding":{"x":{"field":"f","type":"quantitative","scale":{"domain":[0,20],"nice":false,"zero":false},"axis":null},"y":{"field":"tip","type":"quantitative","scale":{"domain":[0,4],"nice":false},"axis":null}}},
{"data":{"values":[{"label":"V - f₁₂"}]},"mark":{"type":"text","align":"right","baseline":"middle","fontSize":10,"color":"#000"},
"encoding":{"x":{"datum":19.5,"type":"quantitative","scale":{"domain":[0,20],"nice":false,"zero":false},"axis":null},"y":{"datum":3.1,"type":"quantitative","scale":{"domain":[0,4],"nice":false},"axis":null},"text":{"field":"label"}}}
],
"resolve":{"axis":{"x":"independent","y":"independent"}}},
{"width":245,"height":63,
"layer":[
{"data":{"name":"model"},"transform":[{"filter":"datum.s==='B'"},{"fold":["g","b","v"],"as":["band","val"]}],
"mark":{"type":"line","color":"#777","strokeWidth":0.7,"strokeDash":[2,2],"interpolate":"monotone","clip":true},
"encoding":{"x":{"field":"t","type":"quantitative","scale":{"domain":[91.8,93.16],"nice":false,"zero":false},"axis":{"orient":"bottom","values":[91.8,91.85,91.9,91.95,92,92.05,92.1,92.15,92.2,92.25,92.3,92.35,92.4,92.45,92.5,92.55,92.6,92.65,92.7,92.75,92.8,92.85,92.9,92.95,93,93.05,93.1,93.15],"labelExpr":"abs(datum.value*5 - round(datum.value*5)) < 0.01 ? format(datum.value, '.1f') : ''","title":"HJD + 2454200 [d]","titlePadding":6}},
"y":{"field":"val","type":"quantitative","scale":{"domain":[-88,88],"reverse":true,"nice":false,"zero":false},"axis":{"orient":"right","values":[-80,-60,-40,-20,0,20,40,60,80],"labelExpr":"datum.value % 40 === 0 ? datum.label : ''","title":null,"labelPadding":4}},
"detail":{"field":"band","type":"nominal"}}},
{"data":{"name":"obs"},"transform":[{"filter":"datum.s==='B'"},{"fold":["g","b","v"],"as":["band","val"]},{"filter":"datum.val != null"}],
"mark":{"type":"point","filled":true,"size":13,"opacity":1,"clip":true},
"encoding":{"x":{"field":"t","type":"quantitative","scale":{"domain":[91.8,93.16],"nice":false,"zero":false},"axis":{"orient":"top","values":[91.8,91.85,91.9,91.95,92,92.05,92.1,92.15,92.2,92.25,92.3,92.35,92.4,92.45,92.5,92.55,92.6,92.65,92.7,92.75,92.8,92.85,92.9,92.95,93,93.05,93.1,93.15],"labels":false,"title":null}},
"y":{"field":"val","type":"quantitative","scale":{"domain":[-88,88],"reverse":true,"nice":false,"zero":false},"axis":{"orient":"left","values":[-80,-60,-40,-20,0,20,40,60,80],"labels":false,"title":null}},
"color":{"field":"band","type":"nominal","scale":{"domain":["g","b","v"],"range":["#228b22","#6495ed","#9932cc"]},"legend":null}}}
],
"resolve":{"axis":{"x":"independent","y":"independent"}}},
{"width":249,"height":62,
"layer":[
{"data":{"name":"spec"},"mark":{"type":"area","color":"#1a1a1a","opacity":0.6,"clip":true},
"encoding":{"x":{"field":"f","type":"quantitative","scale":{"domain":[0,20],"nice":false,"zero":false},"axis":{"orient":"bottom","values":[0,0.5,1,1.5,2,2.5,3,3.5,4,4.5,5,5.5,6,6.5,7,7.5,8,8.5,9,9.5,10,10.5,11,11.5,12,12.5,13,13.5,14,14.5,15,15.5,16,16.5,17,17.5,18,18.5,19,19.5,20],"labelExpr":"datum.value % 2 === 0 ? format(datum.value,'d') : ''","title":"Frequency [d⁻¹]","titlePadding":6,"labelPadding":5}},
"y":{"field":"d","type":"quantitative","scale":{"domain":[0,4],"nice":false},"axis":{"orient":"left","values":[0,1,2,3,4],"labelExpr":"datum.value % 2 === 0 ? format(datum.value,'d') : ''","title":null}}}},
{"data":{"name":"spec"},"mark":{"type":"line","color":"#000","strokeWidth":0.7,"clip":true},
"encoding":{"x":{"field":"f","type":"quantitative","scale":{"domain":[0,20],"nice":false,"zero":false},"axis":null},
"y":{"field":"d","type":"quantitative","scale":{"domain":[0,4],"nice":false},"axis":null}}},
{"data":{"name":"sig"},"mark":{"type":"line","color":"#666","strokeWidth":0.8,"strokeDash":[1.5,1.5],"interpolate":"monotone","clip":true},
"encoding":{"x":{"field":"f","type":"quantitative","scale":{"domain":[0,20],"nice":false,"zero":false},"axis":{"orient":"top","values":[0,0.5,1,1.5,2,2.5,3,3.5,4,4.5,5,5.5,6,6.5,7,7.5,8,8.5,9,9.5,10,10.5,11,11.5,12,12.5,13,13.5,14,14.5,15,15.5,16,16.5,17,17.5,18,18.5,19,19.5,20],"labels":false,"title":null}},
"y":{"field":"s","type":"quantitative","scale":{"domain":[0,4],"nice":false},"axis":{"orient":"right","values":[0,1,2,3,4],"labels":false,"title":null}}}},
{"data":{"values":[{"label":"Residuals"}]},"mark":{"type":"text","align":"right","baseline":"middle","fontSize":10,"color":"#000"},
"encoding":{"x":{"datum":19.5,"type":"quantitative","scale":{"domain":[0,20],"nice":false,"zero":false},"axis":null},"y":{"datum":3.1,"type":"quantitative","scale":{"domain":[0,4],"nice":false},"axis":null},"text":{"field":"label"}}}
],
"resolve":{"axis":{"x":"independent","y":"independent"}}}
]
}
